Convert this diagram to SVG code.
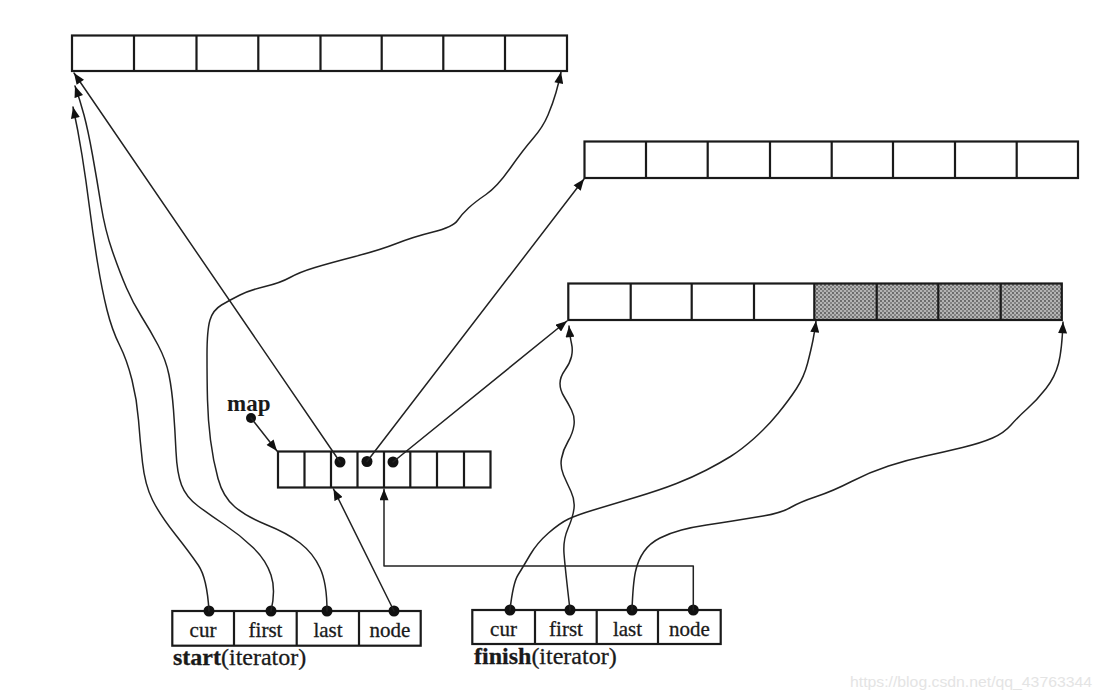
<svg xmlns="http://www.w3.org/2000/svg" width="1102" height="700" viewBox="0 0 1102 700">
<defs>
<style>
.box{fill:none;stroke:#1a1a1a;stroke-width:2.2}
.div{stroke:#1a1a1a;stroke-width:2.2}
.con{fill:none;stroke:#222;stroke-width:1.5;stroke-linejoin:round;stroke-linecap:round}
.dot{fill:#111}
.lbl{font-family:"Liberation Serif","Times New Roman",serif;font-size:21px;fill:#1a1a1a;stroke:#1a1a1a;stroke-width:0.3;text-anchor:middle}
.cap{font-family:"Liberation Serif","Times New Roman",serif;font-size:24px;fill:#1a1a1a;stroke:#1a1a1a;stroke-width:0.3}
.wm{font-family:"Liberation Sans",Arial,sans-serif;font-size:15px;fill:#e4e4e4}
</style>
<marker id="ah" markerUnits="userSpaceOnUse" viewBox="0 0 10 8" markerWidth="12" markerHeight="9" refX="10" refY="4" orient="auto">
<path d="M0,0 L10,4 L0,8 z" fill="#111"/>
</marker>
<pattern id="stip" patternUnits="userSpaceOnUse" width="4" height="4">
<rect width="4" height="4" fill="#b4b4b4"/>
<circle cx="1" cy="1" r="0.9" fill="#4a4a4a"/>
<circle cx="3" cy="3" r="0.9" fill="#6a6a6a"/>
</pattern>
</defs>
<rect width="1102" height="700" fill="#fff"/>

<g id="buffer1">
<rect class="box" x="72" y="35.5" width="495" height="35.5"/>
<path class="div" d="M134,35.5V71M196.5,35.5V71M258.3,35.5V71M320.5,35.5V71M381.7,35.5V71M443.3,35.5V71M505,35.5V71"/>
</g>

<g id="buffer2">
<rect class="box" x="584.5" y="141.5" width="493.5" height="36.5"/>
<path class="div" d="M646,141.5V178M707.7,141.5V178M770,141.5V178M831.7,141.5V178M893,141.5V178M955,141.5V178M1016.7,141.5V178"/>
</g>

<g id="buffer3">
<rect x="814.3" y="283.5" width="247.5" height="36.5" fill="url(#stip)"/>
<rect class="box" x="568.3" y="283.5" width="493.5" height="36.5"/>
<path class="div" d="M630.7,283.5V320M691.7,283.5V320M754,283.5V320M814.3,283.5V320M876.7,283.5V320M938.3,283.5V320M1000.7,283.5V320"/>
</g>

<g id="map">
<rect class="box" x="278" y="451.5" width="212.5" height="36"/>
<path class="div" d="M304.5,451.5V487.5M331,451.5V487.5M357.5,451.5V487.5M384,451.5V487.5M410.3,451.5V487.5M437,451.5V487.5M464,451.5V487.5"/>
<circle class="dot" cx="340" cy="462" r="5.5"/>
<circle class="dot" cx="367" cy="461.5" r="5.5"/>
<circle class="dot" cx="393" cy="462" r="5.5"/>
</g>

<g id="map-label">
<text x="227" y="411" font-family="'Liberation Serif','Times New Roman',serif" font-size="23" font-weight="bold" fill="#1a1a1a">map</text>
<circle class="dot" cx="251" cy="418" r="5"/>
</g>

<g id="start">
<rect class="box" x="172.3" y="611" width="248.4" height="34.7"/>
<path class="div" d="M234,611V645.7M296.7,611V645.7M359,611V645.7"/>
<text class="lbl" x="203" y="637">cur</text>
<text class="lbl" x="265.5" y="637">first</text>
<text class="lbl" x="328" y="637">last</text>
<text class="lbl" x="390" y="637">node</text>
<circle class="dot" cx="209" cy="611" r="5.5"/>
<circle class="dot" cx="271" cy="611" r="5.5"/>
<circle class="dot" cx="327" cy="611" r="5.5"/>
<circle class="dot" cx="394" cy="611" r="5.5"/>
<text class="cap" x="173" y="665"><tspan font-weight="bold">start</tspan>(iterator)</text>
</g>

<g id="finish">
<rect class="box" x="472.3" y="610" width="248.4" height="34"/>
<path class="div" d="M535,610V644M596.7,610V644M658,610V644"/>
<text class="lbl" x="503.5" y="636">cur</text>
<text class="lbl" x="566" y="636">first</text>
<text class="lbl" x="627.5" y="636">last</text>
<text class="lbl" x="689.5" y="636">node</text>
<circle class="dot" cx="510" cy="610" r="5.5"/>
<circle class="dot" cx="570" cy="610" r="5.5"/>
<circle class="dot" cx="632" cy="610" r="5.5"/>
<circle class="dot" cx="693.3" cy="610" r="5.5"/>
<text class="cap" x="474" y="664"><tspan font-weight="bold">finish</tspan>(iterator)</text>
</g>

<g id="connectors">
<path class="con" marker-end="url(#ah)" d="M251,418 L277,451"/>
<path class="con" marker-end="url(#ah)" d="M340,462 L74,73"/>
<path class="con" marker-end="url(#ah)" d="M367,461.5 L584,179"/>
<path class="con" marker-end="url(#ah)" d="M393,462 L567,321"/>
<path class="con" marker-end="url(#ah)" d="M394,611 L333.5,489"/>
<path class="con" marker-end="url(#ah)" d="M693.3,610 V566 H384 V489"/>
<path class="con" marker-end="url(#ah)" d="M209,611 Q207,578 198.5,565.5 Q190,553 175,534 Q160,515 152.5,500 Q145,485 142.5,462.5 Q140,440 138.5,420 Q137,400 132,380 Q127,360 119.5,345 Q112,330 107,310 Q102,290 97.5,262.5 Q93,235 89.5,207.5 Q86,180 82,155 Q78,130 73,107"/>
<path class="con" marker-end="url(#ah)" d="M271,611 Q276,590 271,575 Q266,560 253,547.5 Q240,535 225,525 Q210,515 198,506 Q186,497 181.5,485 Q177,473 176,451.5 Q175,430 173.5,410 Q172,390 169,375 Q166,360 158,345 Q150,330 141.5,316.5 Q133,303 126.5,288 Q120,273 112.5,251.5 Q105,230 101,205 Q97,180 92.5,155 Q88,130 84,115 Q80,100 75,86"/>
<path class="con" marker-end="url(#ah)" d="M327,611 Q327,583 320,568 Q313,553 300,543 Q287,533 267,525 Q247,517 235,507 Q223,497 218,478.5 Q213,460 210.5,440 Q208,420 207.5,400 Q207,380 207,355 Q207,330 210,320 Q213,310 221.5,305 Q230,300 240,295 Q250,290 265,286.5 Q280,283 290,277.5 Q300,272 315,267.5 Q330,263 355,256.5 Q380,250 396.5,243.5 Q413,237 433,232 Q453,227 457.5,220.5 Q462,214 468.5,208 Q475,202 486,194.5 Q497,187 510,168.5 Q523,150 533,138.5 Q543,127 548,115 Q553,103 556,92.5 Q559,82 561,72"/>
<path class="con" marker-end="url(#ah)" d="M510,610 Q513,583 518,575 Q523,567 530,555 Q537,543 548.5,533 Q560,523 568.5,519 Q577,515 593.5,510 Q610,505 635,497.5 Q660,490 676.5,483.5 Q693,477 706.5,470 Q720,463 730.5,456.5 Q741,450 754,438.5 Q767,427 778,413.5 Q789,400 796.5,388.5 Q804,377 807.5,363.5 Q811,350 813,340 Q815,330 816,321"/>
<path class="con" marker-end="url(#ah)" d="M570,610 Q565,567 564,553.5 Q563,540 568,528.5 Q573,517 574,508.5 Q575,500 571,491.5 Q567,483 563.5,475 Q560,467 561.5,458.5 Q563,450 568,441.5 Q573,433 574,425 Q575,417 571.5,410 Q568,403 564,396.5 Q560,390 560,383.5 Q560,377 565,370 Q570,363 571.5,356.5 Q573,350 571.5,343.5 Q570,337 569,326"/>
<path class="con" marker-end="url(#ah)" d="M632,610 Q633,583 635.5,571.5 Q638,560 644,551.5 Q650,543 660,538 Q670,533 681.5,530 Q693,527 706.5,525 Q720,523 732.5,521 Q745,519 763,516 Q781,513 790.5,507.5 Q800,502 816.5,496.5 Q833,491 851.5,481.5 Q870,472 888.5,466 Q907,460 925.5,456 Q944,452 962.5,447.5 Q981,443 992.5,438 Q1004,433 1011,425 Q1018,417 1027.5,408.5 Q1037,400 1046,388.5 Q1055,377 1058.5,363.5 Q1062,350 1063,322"/>
</g>

<text class="wm" x="850" y="687" textLength="242" lengthAdjust="spacingAndGlyphs">https://blog.csdn.net/qq_43763344</text>
</svg>
